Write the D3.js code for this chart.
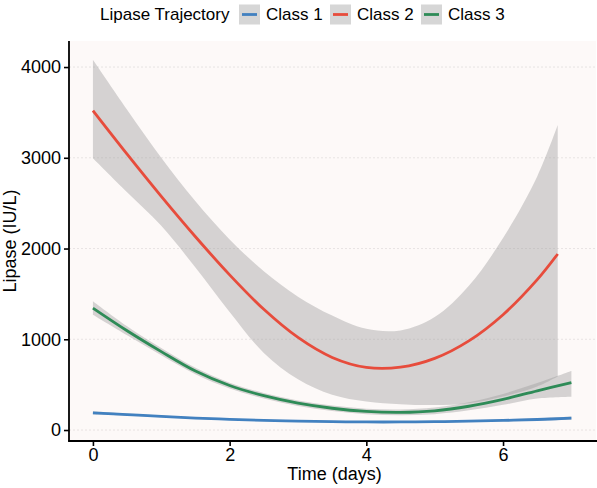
<!DOCTYPE html>
<html>
<head>
<meta charset="utf-8">
<script src="https://cdn.jsdelivr.net/npm/d3@7"></script>
<style>
  body { margin: 0; background: #ffffff; }
  svg text { font-family: "Liberation Sans", Arial, sans-serif; fill: #000; }
</style>
</head>
<body>
<svg id="chart"></svg>
<script>
// data
var classNames = ["Class 1", "Class 2", "Class 3"];
var classColors = ["#4281C0", "#E74C3C", "#2E8B57"];

var days = [0, 0.5, 1, 1.5, 2, 2.5, 3, 3.5, 4, 4.5, 5, 5.5, 6, 6.5, 7];
var daysClass2 = [0, 0.5, 1, 1.5, 2, 2.5, 3, 3.5, 4, 4.5, 5, 5.5, 6, 6.5, 6.8];

var class1Fit   = [190, 170, 150, 132, 118, 106, 98, 92, 89, 89, 92, 98, 106, 116, 130];
var class1Lower = [172, 158, 140, 124, 110, 99, 91, 85, 82, 82, 85, 90, 96, 103, 112];
var class1Upper = [208, 182, 160, 140, 126, 113, 105, 99, 96, 96, 99, 106, 116, 129, 148];

var class2Fit   = [3520, 3040, 2575, 2130, 1710, 1330, 1020, 800, 690, 692, 789, 982, 1271, 1657, 1940];
var class2Lower = [2995, 2620, 2250, 1790, 1300, 850, 560, 390, 315, 285, 275, 295, 370, 480, 590];
var class2Upper = [4080, 3530, 3000, 2520, 2100, 1750, 1470, 1262, 1115, 1098, 1245, 1590, 2116, 2795, 3360];

var class3Fit   = [1344, 1094, 864, 650, 490, 378, 296, 240, 205, 195, 212, 262, 338, 432, 522];
var class3Lower = [1270, 1044, 824, 615, 458, 348, 266, 210, 175, 163, 175, 217, 278, 347, 367];
var class3Upper = [1420, 1144, 904, 685, 522, 408, 326, 270, 235, 227, 249, 307, 398, 517, 650];

var xTicks = [0, 2, 4, 6];
var yTicks = [0, 1000, 2000, 3000, 4000];

var series = [
    { name: classNames[0], color: classColors[0], t: days, fit: class1Fit, lo: class1Lower, hi: class1Upper },
    { name: classNames[1], color: classColors[1], t: daysClass2, fit: class2Fit, lo: class2Lower, hi: class2Upper },
    { name: classNames[2], color: classColors[2], t: days, fit: class3Fit, lo: class3Lower, hi: class3Upper }
];

//Width and height of svg
var w = 597;
var h = 488;
var panelLeft = 69, panelRight = 596, panelTop = 41, panelBottom = 441;

var svg = d3.select("#chart")
            .attr("width", w)
            .attr("height", h);

//Create scale functions
var xScale = d3.scaleLinear()
            .domain([-0.35, 7.36])
            .range([panelLeft, panelRight]);

var yScale = d3.scaleLinear()
            .domain([-121, 4287])
            .range([panelBottom, panelTop]);

// panel background
svg.append("rect")
    .attr("x", panelLeft)
    .attr("y", panelTop)
    .attr("width", panelRight - panelLeft)
    .attr("height", panelBottom - panelTop)
    .attr("fill", "#FDF9F8");

// dashed grid lines
svg.selectAll(".grid")
    .data(yTicks)
    .enter()
    .append("line")
    .attr("class", "grid")
    .attr("x1", panelLeft)
    .attr("x2", panelRight)
    .attr("y1", function(d) { return yScale(d); })
    .attr("y2", function(d) { return yScale(d); })
    .attr("stroke", "#DEDADA")
    .attr("stroke-width", 0.7)
    .attr("stroke-dasharray", "2,2");

var area = d3.area()
    .curve(d3.curveCatmullRom)
    .x(function(d) { return xScale(d.t); })
    .y0(function(d) { return yScale(d.lo); })
    .y1(function(d) { return yScale(d.hi); });

var line = d3.line()
    .curve(d3.curveCatmullRom)
    .x(function(d) { return xScale(d.t); })
    .y(function(d) { return yScale(d.v); });

function rows(s) {
    return s.t.map(function(t, i) {
        return { t: t, v: s.fit[i], lo: s.lo[i], hi: s.hi[i] };
    });
}

// ribbons first, then lines on top
series.forEach(function(s) {
    svg.append("path")
        .datum(rows(s))
        .attr("d", area)
        .attr("fill", "#999999")
        .attr("fill-opacity", 0.4);
});

series.forEach(function(s) {
    svg.append("path")
        .datum(rows(s))
        .attr("d", line)
        .attr("fill", "none")
        .attr("stroke", s.color)
        .attr("stroke-width", 2.8);
});

//Define axes
var xAxis = d3.axisBottom()
            .scale(xScale)
            .tickValues(xTicks)
            .tickSize(5)
            .tickPadding(2)
            .tickFormat(d3.format("d"));

var yAxis = d3.axisLeft()
            .scale(yScale)
            .tickValues(yTicks)
            .tickSize(5)
            .tickPadding(3)
            .tickFormat(d3.format("d"));

//Create X axis
var gx = svg.append("g")
    .attr("transform", "translate(0," + panelBottom + ")")
    .call(xAxis);

//Create Y axis
var gy = svg.append("g")
    .attr("transform", "translate(" + panelLeft + ",0)")
    .call(yAxis);

[gx, gy].forEach(function(g) {
    g.select(".domain").remove();
    g.selectAll(".tick line").attr("stroke", "#000").attr("stroke-width", 1.6);
    g.selectAll(".tick text").style("font-size", "18px").attr("fill", "#000");
});
gx.selectAll(".tick text").attr("dy", "0.72em");

// axis lines
svg.append("line")
    .attr("x1", panelLeft).attr("x2", panelLeft)
    .attr("y1", panelTop).attr("y2", panelBottom + 0.8)
    .attr("stroke", "#000").attr("stroke-width", 1.8);
svg.append("line")
    .attr("x1", panelLeft - 0.8).attr("x2", w)
    .attr("y1", panelBottom).attr("y2", panelBottom)
    .attr("stroke", "#000").attr("stroke-width", 1.8);

// X axis label
svg.append("text")
    .attr("text-anchor", "middle")
    .attr("x", (panelLeft + panelRight) / 2 + 2)
    .attr("y", 480)
    .style("font-size", "18px")
    .text("Time (days)");

// Y axis label
svg.append("text")
    .attr("text-anchor", "middle")
    .attr("transform", "rotate(-90)")
    .attr("x", -(panelTop + panelBottom) / 2)
    .attr("y", 16)
    .style("font-size", "18px")
    .text("Lipase (IU/L)");

// legend on top
var legend = svg.append("g");
legend.append("text")
    .attr("x", 100)
    .attr("y", 20)
    .style("font-size", "17px")
    .text("Lipase Trajectory");

var keyX = [239, 330, 421];
series.forEach(function(s, i) {
    legend.append("rect")
        .attr("x", keyX[i])
        .attr("y", 4.5)
        .attr("width", 21)
        .attr("height", 20)
        .attr("fill", "#999999")
        .attr("fill-opacity", 0.4);
    legend.append("line")
        .attr("x1", keyX[i] + 3)
        .attr("x2", keyX[i] + 18)
        .attr("y1", 14.5)
        .attr("y2", 14.5)
        .attr("stroke", s.color)
        .attr("stroke-width", 2.8);
    legend.append("text")
        .attr("x", keyX[i] + 27)
        .attr("y", 20)
        .style("font-size", "17px")
        .text(s.name);
});
</script>
</body>
</html>
